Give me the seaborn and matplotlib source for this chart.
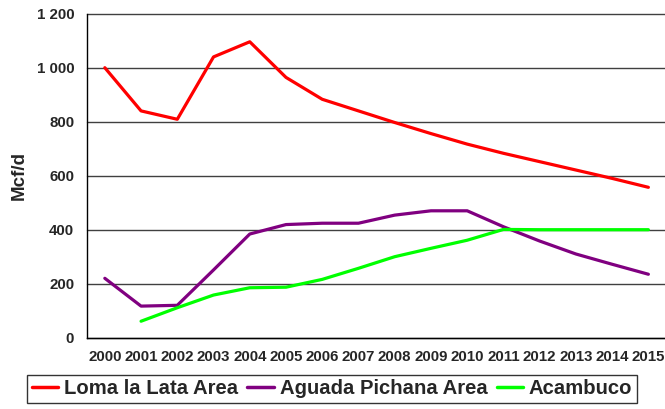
import numpy as np
import pandas as pd
import matplotlib
matplotlib.use("Agg")
import matplotlib.pyplot as plt
import seaborn as sns
from matplotlib.ticker import FuncFormatter, MultipleLocator

years = list(range(2000, 2016))
loma_la_lata = [1000, 840, 809, 1040, 1096, 964, 883, 840, 797, 756, 717, 683, 652, 621, 590, 557]
aguada_pichana = [220, 117, 120, 251, 384, 419, 424, 424, 454, 470, 470, 411, 358, 310, 272, 235]
acambuco = [np.nan, 61, 111, 158, 185, 187, 216, 257, 300, 331, 361, 401, 400, 400, 400, 400]
series_names = ["Loma la Lata Area", "Aguada Pichana Area", "Acambuco"]
colors = ["#FF0000", "#800080", "#00FF00"]
y_label = "Mcf/d"

df = pd.DataFrame({
    "year": years * 3,
    "value": loma_la_lata + aguada_pichana + acambuco,
    "series": [series_names[0]] * 16 + [series_names[1]] * 16 + [series_names[2]] * 16,
})

sns.set_style("white")
plt.rcParams["font.family"] = ["Liberation Sans", "DejaVu Sans"]
plt.rcParams["font.weight"] = "bold"

fig = plt.figure(figsize=(6.65, 4.09), dpi=100)
W, H = 665, 409
left_px, right_px = 86.7, 666.5
top_px, bot_px = 13.7, 337.7
ax = fig.add_axes([left_px / W, (H - bot_px) / H, (right_px - left_px) / W, (bot_px - top_px) / H])

sns.lineplot(data=df, x="year", y="value", hue="series", palette=colors,
             hue_order=series_names, linewidth=2.3, ax=ax, legend=True)

ax.set_xlim(1999.5, 2015.5)
ax.set_ylim(0, 1200)
ax.set_xticks(years)
ax.set_xticklabels([str(y) for y in years], fontsize=10.8, fontweight="bold")
ax.xaxis.set_minor_locator(MultipleLocator(1, offset=0.5))
ax.tick_params(axis="x", which="major", length=0, pad=9)
ax.tick_params(axis="x", which="minor", length=5, width=1, color="black", direction="out")
ax.yaxis.set_major_locator(MultipleLocator(200))
ax.yaxis.set_major_formatter(FuncFormatter(lambda v, p: f"{int(v):,}".replace(",", " ")))
ax.tick_params(axis="y", which="major", length=5, width=1, color="black", direction="out", labelsize=10.8, pad=4)
for lbl in ax.get_yticklabels():
    lbl.set_fontweight("bold")

ax.yaxis.grid(True, color="#404040", linewidth=1.0)
ax.xaxis.grid(False)
ax.set_axisbelow(True)
for gl in ax.get_ygridlines():
    gl.set_clip_on(False)

for s in ["top", "right"]:
    ax.spines[s].set_visible(False)
for s in ["left", "bottom"]:
    ax.spines[s].set_color("black")
    ax.spines[s].set_linewidth(1.0)

ax.set_xlabel("")
ax.set_ylabel(y_label, fontsize=13.5, fontweight="bold", labelpad=6)

handles, labels = ax.get_legend_handles_labels()
ax.get_legend().remove()
leg = fig.legend(handles, labels, loc="center", bbox_to_anchor=(332 / W, (H - 389) / H),
                 ncol=3, frameon=True, fancybox=False, edgecolor="black",
                 prop={"size": 14.6, "weight": "bold"}, handlelength=1.3,
                 handletextpad=0.3, columnspacing=0.45, borderpad=0.2, borderaxespad=0)
leg.get_frame().set_linewidth(1.0)
for line in leg.get_lines():
    line.set_linewidth(2.5)

fig.savefig("out.png", dpi=100)
